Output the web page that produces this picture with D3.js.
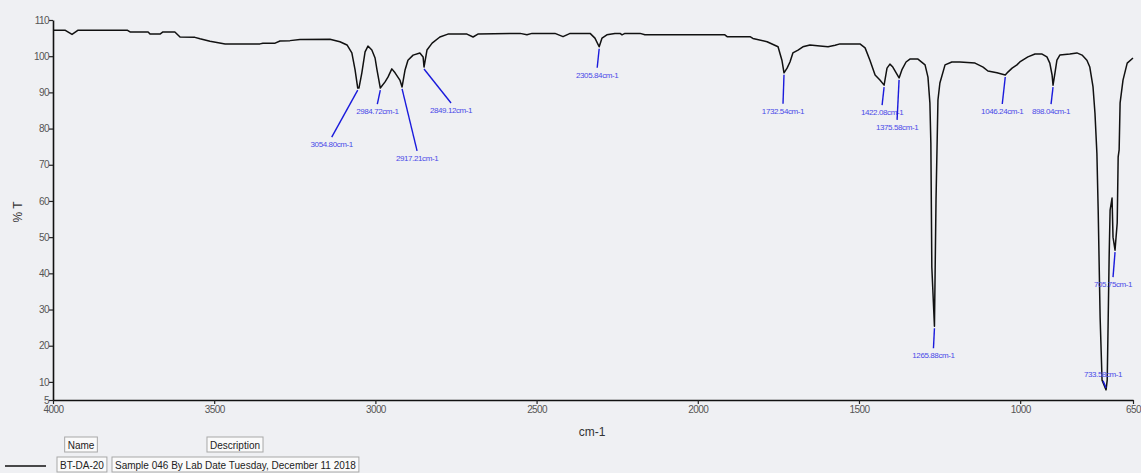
<!DOCTYPE html>
<html>
<head>
<meta charset="utf-8">
<script src="https://cdn.jsdelivr.net/npm/d3@7/dist/d3.min.js"></script>
<style>
  html, body { margin: 0; padding: 0; background: #eff0f3; }
  svg { display: block; }
  text { font-family: "Liberation Sans", Arial, sans-serif; }
</style>
</head>
<body>
<svg id="chart" width="1141" height="473"></svg>
<script>
// FTIR spectrum: wavenumber (cm-1) against transmittance (%T)
const wavenumber = [
  4000, 3963, 3941, 3922, 3770, 3761, 3705, 3699, 3668, 3659, 3622, 3606, 3560, 3544, 3513, 3466,
  3358, 3349, 3311, 3296, 3265, 3234, 3141, 3110, 3088, 3073, 3063, 3054.80, 3051, 3042, 3032, 3023,
  3011, 3001, 2995, 2984.72, 2970, 2961, 2949, 2939, 2924, 2917.21, 2908, 2899, 2883, 2862, 2852, 2849.12,
  2840, 2824, 2800, 2775, 2716, 2697, 2682, 2551, 2530, 2514, 2443, 2418, 2396, 2334, 2319, 2305.84,
  2297, 2282, 2257, 2241, 2235, 2226, 2179, 2164, 1916, 1909, 1838, 1829, 1785, 1751, 1739, 1732.54,
  1723, 1714, 1705, 1689, 1674, 1652, 1621, 1596, 1574, 1559, 1497, 1481, 1466, 1450, 1435, 1422.08,
  1413, 1404, 1395, 1375.58, 1367, 1354, 1342, 1317, 1295, 1286, 1280, 1277, 1274, 1265.88, 1261, 1258,
  1255, 1249, 1233, 1212, 1187, 1140, 1115, 1100, 1072, 1046.24, 1038, 1025, 1010, 1001, 976, 954,
  932, 917, 908, 901, 898.04, 892, 886, 877, 846, 824, 808, 793, 784, 774, 768, 762,
  758, 752, 746, 733.58, 730, 727, 724, 721, 715, 712, 705.75, 699, 696, 693, 690, 681,
  668, 650
];
const transmittance = [
  107.2, 107.2, 106.0, 107.2, 107.2, 106.7, 106.7, 106.1, 106.1, 106.7, 106.7, 105.3, 105.2, 104.8, 104.1, 103.4,
  103.4, 103.6, 103.6, 104.2, 104.3, 104.6, 104.7, 104.0, 103.1, 100.9, 96.2, 91.2, 91.2, 95.4, 101.2, 102.8,
  101.7, 99.5, 96.2, 91.2, 92.9, 94.2, 96.5, 95.4, 93.4, 91.5, 96.2, 98.9, 100.3, 100.9, 99.8, 97.0,
  101.7, 103.6, 105.3, 106.1, 106.1, 105.3, 106.1, 106.3, 105.9, 106.3, 106.3, 105.4, 106.3, 106.3, 105.0, 102.6,
  105.0, 105.9, 106.3, 106.3, 105.9, 106.3, 106.3, 105.9, 105.9, 105.4, 105.4, 104.9, 104.0, 102.6, 98.9, 95.4,
  96.7, 98.4, 100.9, 101.7, 102.6, 103.1, 102.8, 102.6, 103.0, 103.4, 103.4, 102.3, 98.9, 94.8, 93.4, 92.0,
  96.7, 97.8, 97.0, 94.0, 96.2, 98.4, 99.2, 99.2, 97.6, 94.2, 87.1, 76.0, 41.7, 25.4, 60.3, 74.1,
  87.9, 92.6, 97.6, 98.4, 98.4, 98.1, 97.0, 95.9, 95.4, 94.8, 95.6, 96.7, 97.6, 98.4, 99.8, 100.6,
  100.6, 99.8, 98.1, 94.8, 92.0, 95.4, 98.9, 100.3, 100.6, 100.9, 100.3, 98.9, 97.0, 91.5, 84.3, 73.2,
  57.5, 27.9, 10.5, 7.8, 10.5, 27.1, 44.5, 57.5, 60.8, 50.0, 46.4, 53.9, 72.2, 74.1, 87.1, 93.4,
  98.1, 99.5
];

// Picked peaks (cm-1)
const peakWavenumbers = [3054.80, 2984.72, 2917.21, 2849.12, 2305.84, 1732.54, 1422.08, 1375.58,
                         1265.88, 1046.24, 898.04, 733.58, 705.75];

const xTickValues = [4000, 3500, 3000, 2500, 2000, 1500, 1000, 650];
const yTickValues = [110, 100, 90, 80, 70, 60, 50, 40, 30, 20, 10, 5];

const legendHeaders = ["Name", "Description"];
const legendEntry = ["BT-DA-20", "Sample 046 By Lab Date Tuesday, December 11 2018"];

// Leader-line offsets (px) from each peak to its label
const calloutOffsets = [[-26, 49], [-3, 16], [15, 64], [27, 36], [-2, 21], [-1, 31], [-2, 20], [-2, 42],
                        [-1, 22], [-3, 29], [-2, 19], [-3, -9], [-2, 27]];

const svg = d3.select("#chart");
const W = 1141, H = 473;
svg.append("rect").attr("width", W).attr("height", H).attr("fill", "#eff0f3");

const x = d3.scaleLinear().domain([4000, 650]).range([53, 1133]);
const y = d3.scaleLinear().domain([5, 110]).range([400, 20]);

const spectrum = wavenumber.map((w, i) => ({ w, t: transmittance[i] }));

// axes
const yAxis = svg.append("g")
  .attr("transform", `translate(${x.range()[0]},0)`)
  .call(d3.axisLeft(y).tickValues(yTickValues).tickSize(4).tickSizeOuter(0).tickFormat(d3.format("d")));
const xAxis = svg.append("g")
  .attr("transform", `translate(0,${y(5)})`)
  .call(d3.axisBottom(x).tickValues(xTickValues).tickSize(4).tickSizeOuter(0).tickFormat(d3.format("d")));

[yAxis, xAxis].forEach(g => {
  g.select(".domain").attr("stroke", "#111").attr("stroke-width", 1.6);
  g.selectAll(".tick line").attr("stroke", "#222").attr("stroke-width", 1.2);
  g.selectAll(".tick text").attr("fill", "#555").attr("font-size", 10)
    .attr("font-family", "Liberation Sans, Arial, sans-serif").attr("letter-spacing", "-0.6px");
});
yAxis.selectAll(".tick text").attr("x", -4);
xAxis.selectAll(".tick text").attr("y", 6);

// axis titles
svg.append("text")
  .attr("transform", `translate(22,212) rotate(-90)`)
  .attr("text-anchor", "middle")
  .attr("font-size", 12).attr("fill", "#333")
  .text("% T");
svg.append("text")
  .attr("x", 592).attr("y", 436)
  .attr("text-anchor", "middle")
  .attr("font-size", 12).attr("fill", "#333")
  .text("cm-1");

// spectrum trace
const line = d3.line().x(d => x(d.w)).y(d => y(d.t));
svg.append("path")
  .datum(spectrum)
  .attr("d", line)
  .attr("fill", "none")
  .attr("stroke", "#111")
  .attr("stroke-width", 1.5)
  .attr("stroke-linejoin", "round");

// peak callouts
const peakGroup = svg.append("g");
peakWavenumbers.forEach((w, i) => {
  const t = transmittance[wavenumber.indexOf(w)];
  const px = x(w), py = y(t);
  const [dx, dy] = calloutOffsets[i];
  const sy = dy > 0 ? py + 2 : py - 2;
  const ex = px + dx, ey = py + dy;
  peakGroup.append("line")
    .attr("x1", px).attr("y1", sy)
    .attr("x2", ex).attr("y2", ey)
    .attr("stroke", "#1a1adc").attr("stroke-width", 1.4);
  peakGroup.append("text")
    .attr("x", ex).attr("y", dy > 0 ? ey + 10 : ey - 4)
    .attr("text-anchor", "middle")
    .attr("font-size", 8).attr("letter-spacing", "-0.4px")
    .attr("fill", "#4a4ae8")
    .text(`${w.toFixed(2)}cm-1`);
});

// legend table
const legend = svg.append("g");
function boxedText(g, cx, yTop, txt, anchorLeft) {
  const t = g.append("text")
    .attr("font-size", 10).attr("fill", "#222").attr("letter-spacing", "0px")
    .attr("y", yTop + 11.5)
    .text(txt);
  const wText = t.node().getComputedTextLength();
  const left = anchorLeft ? cx : cx - wText / 2 - 3;
  t.attr("x", left + 3);
  g.insert("rect", "text")
    .attr("x", left).attr("y", yTop)
    .attr("width", wText + 6).attr("height", 15)
    .attr("fill", "#fafafa").attr("stroke", "#a8a8a8").attr("stroke-width", 1);
}
boxedText(legend.append("g"), 81, 437, legendHeaders[0], false);
boxedText(legend.append("g"), 235, 437, legendHeaders[1], false);
legend.append("line").attr("x1", 5).attr("x2", 46).attr("y1", 466).attr("y2", 466)
  .attr("stroke", "#111").attr("stroke-width", 1.5);
boxedText(legend.append("g"), 57, 457, legendEntry[0], true);
boxedText(legend.append("g"), 112, 457, legendEntry[1], true);
</script>
</body>
</html>
